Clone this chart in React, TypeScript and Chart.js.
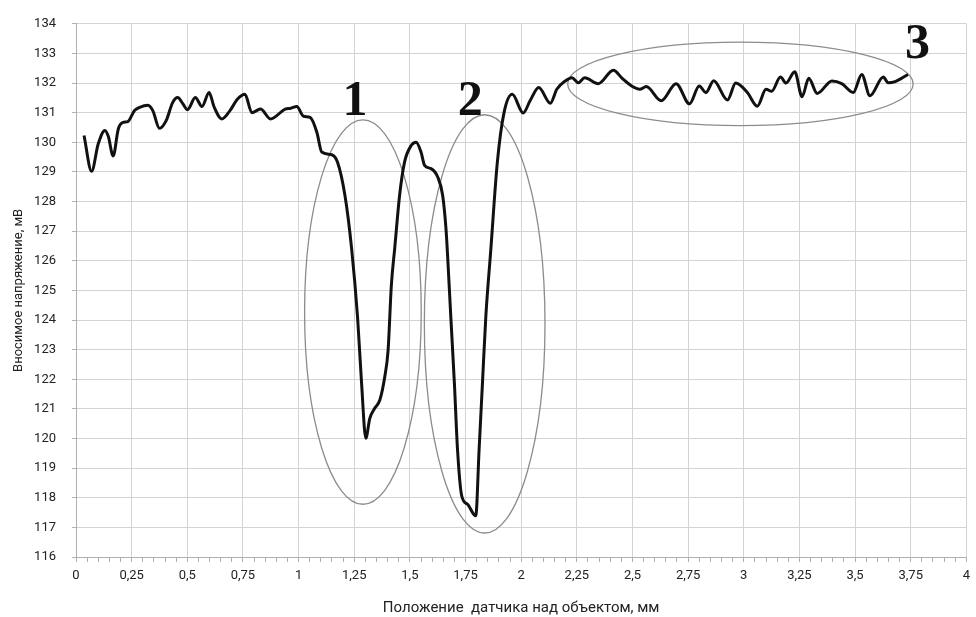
import React, { useEffect, useRef } from "react";
import { Chart, registerables } from "chart.js";

Chart.register(...registerables);

const positions: number[] = [
  0.036, 0.07, 0.1, 0.13, 0.145, 0.167, 0.19, 0.211, 0.233, 0.263, 0.286, 0.323, 0.345, 0.375, 0.405, 0.434,
  0.457, 0.48, 0.501, 0.536, 0.566, 0.598, 0.62, 0.655, 0.69, 0.725, 0.759, 0.79, 0.829, 0.874, 0.94, 0.965,
  0.992, 1.022, 1.052, 1.082, 1.104, 1.149, 1.175, 1.208, 1.238, 1.265, 1.283, 1.302, 1.32, 1.342, 1.365,
  1.387, 1.402, 1.417, 1.432, 1.454, 1.476, 1.506, 1.528, 1.55, 1.566, 1.595, 1.625, 1.647, 1.662, 1.67,
  1.684, 1.7, 1.714, 1.733, 1.759, 1.796, 1.811, 1.826, 1.841, 1.863, 1.893, 1.923, 1.96, 2.009, 2.04,
  2.079, 2.131, 2.16, 2.198, 2.228, 2.257, 2.285, 2.347, 2.414, 2.455, 2.496, 2.533, 2.562, 2.629, 2.696,
  2.756, 2.8, 2.83, 2.865, 2.927, 2.964, 3.016, 3.061, 3.1, 3.125, 3.165, 3.19, 3.229, 3.262, 3.292, 3.33,
  3.396, 3.44, 3.492, 3.53, 3.567, 3.627, 3.649, 3.68, 3.738,
];

const voltage: number[] = [
  130.23, 129.02, 129.95, 130.4, 130.2, 129.54, 130.45, 130.67, 130.7, 131.07, 131.18, 131.25, 131.07, 130.47,
  130.73, 131.34, 131.51, 131.3, 131.1, 131.51, 131.21, 131.68, 131.2, 130.79, 131.05, 131.45, 131.62, 131.0,
  131.12, 130.79, 131.12, 131.15, 131.21, 130.88, 130.84, 130.34, 129.67, 129.58, 129.33, 128.22, 126.43,
  124.09, 121.86, 120.01, 120.68, 121.02, 121.3, 122.08, 122.97, 125.2, 126.43, 128.22, 129.33, 129.89, 130.0,
  129.67, 129.22, 129.11, 128.83, 128.22, 127.1, 126.1, 124.09, 121.86, 119.63, 118.06, 117.78, 117.39,
  119.63, 121.86, 124.09, 126.32, 129.33, 131.0, 131.62, 130.99, 131.4, 131.85, 131.32, 131.79, 132.07,
  132.18, 132.01, 132.18, 131.98, 132.43, 132.15, 131.9, 131.79, 131.88, 131.4, 131.98, 131.3, 131.9, 131.68,
  132.08, 131.43, 132.0, 131.68, 131.22, 131.79, 131.72, 132.2, 132.0, 132.38, 131.54, 132.16, 131.65, 132.07,
  131.98, 131.68, 132.29, 131.57, 132.2, 132.01, 132.05, 132.29,
];

const xTitle = "Положение  датчика над объектом, мм";
const yTitle = "Вносимое напряжение, мВ";

// annotation ellipses: centre x, centre y, radius x, radius y (data units)
const ellipseCx = [1.289, 1.836, 2.985];
const ellipseCy = [124.27, 123.87, 131.97];
const ellipseRx = [0.262, 0.271, 0.776];
const ellipseRy = [6.49, 7.06, 1.41];

const markLabels = ["1", "2", "3"];
const markX = [1.253, 1.771, 3.78];
const markY = [130.91, 130.91, 132.83];

const isMajor = (v: number) => Math.abs(v * 4 - Math.round(v * 4)) < 1e-6;

const annotationPlugin = {
  id: "ellipses",
  beforeDatasetsDraw(chart: any) {
    const { ctx, scales } = chart;
    const xs = scales.x;
    const ys = scales.y;
    ctx.save();
    ctx.strokeStyle = "#8c8c8c";
    ctx.lineWidth = 1.3;
    for (let i = 0; i < ellipseCx.length; i++) {
      const cx = xs.getPixelForValue(ellipseCx[i]);
      const cy = ys.getPixelForValue(ellipseCy[i]);
      const rx = xs.getPixelForValue(ellipseCx[i] + ellipseRx[i]) - cx;
      const ry = cy - ys.getPixelForValue(ellipseCy[i] + ellipseRy[i]);
      ctx.beginPath();
      ctx.ellipse(cx, cy, rx, ry, 0, 0, Math.PI * 2);
      ctx.stroke();
    }
    ctx.restore();
  },
  afterDatasetsDraw(chart: any) {
    const { ctx, scales } = chart;
    ctx.save();
    ctx.fillStyle = "#111";
    ctx.font = "bold 50px 'Liberation Serif', 'DejaVu Serif', serif";
    ctx.textAlign = "center";
    ctx.textBaseline = "alphabetic";
    for (let i = 0; i < markLabels.length; i++) {
      ctx.fillText(markLabels[i], scales.x.getPixelForValue(markX[i]), scales.y.getPixelForValue(markY[i]));
    }
    ctx.restore();
  },
};

export default function App() {
  const ref = useRef<HTMLCanvasElement | null>(null);
  useEffect(() => {
    if (!ref.current) return;
    const font = { family: "Roboto, 'Open Sans', sans-serif", size: 13 };
    const titleFont = { family: "Roboto, 'Open Sans', sans-serif", size: 15 };
    const chart = new Chart(ref.current, {
      type: "line",
      data: {
        datasets: [
          {
            data: positions.map((x, i) => ({ x, y: voltage[i] })),
            borderColor: "#111",
            borderWidth: 3,
            pointRadius: 0,
            fill: false,
            cubicInterpolationMode: "monotone",
          },
        ],
      },
      options: {
        animation: false,
        responsive: false,
        maintainAspectRatio: false,
        layout: { padding: { top: 18, right: 4, left: 0, bottom: 0 } },
        plugins: { legend: { display: false }, tooltip: { enabled: false } },
        scales: {
          x: {
            type: "linear",
            min: 0,
            max: 4,
            ticks: {
              stepSize: 0.05,
              autoSkip: false,
              maxRotation: 0,
              padding: 6,
              color: "#222",
              font,
              callback: (v: any) => (isMajor(Number(v)) ? String(Number(Number(v).toFixed(2))).replace(".", ",") : ""),
            },
            grid: {
              color: (c: any) => (c.tick && isMajor(c.tick.value) ? "#d3d3d3" : "rgba(0,0,0,0)"),
              tickColor: "#b0b0b0",
              tickLength: 5,
              lineWidth: 1,
            },
            border: { color: "#b0b0b0" },
            title: { display: true, text: xTitle, color: "#222", font: titleFont, padding: { top: 4, bottom: 0 } },
            afterFit: (s: any) => {
              s.height = 60;
            },
          },
          y: {
            min: 116,
            max: 134,
            ticks: { stepSize: 1, padding: 16, color: "#222", font },
            grid: { color: "#d3d3d3", tickColor: "#b0b0b0", tickLength: 4 },
            border: { color: "#b0b0b0" },
            title: { display: true, text: yTitle, color: "#222", font, padding: { top: 11, bottom: 0 } },
            afterFit: (s: any) => {
              s.width = 76;
            },
          },
        },
      },
      plugins: [annotationPlugin],
    } as any);
    return () => chart.destroy();
  }, []);
  return (
    <div style={{ position: "absolute", left: 0, top: 0, width: 976, height: 617, background: "#fff" }}>
      <canvas ref={ref} width={976} height={617} />
    </div>
  );
}
